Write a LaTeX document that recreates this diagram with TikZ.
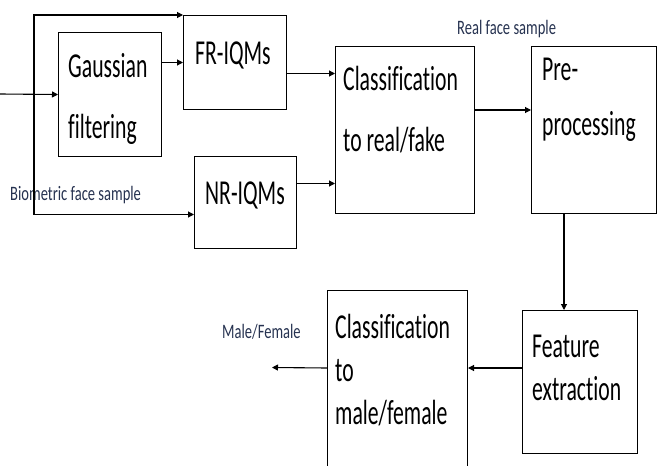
\documentclass[tikz,border=0pt]{standalone}
\usepackage{fontspec}
\setmainfont{Carlito}[FakeStretch=0.62, Ligatures=NoCommon]
\newfontfamily\notefont{Carlito}[FakeStretch=0.71, Ligatures=NoCommon]
\usepackage{tikz}
\usetikzlibrary{arrows.meta,positioning,calc}
\definecolor{labelblue}{RGB}{38,50,80}

\begin{document}
\begin{tikzpicture}[
  x=1pt, y=-1pt,
  box/.style={draw, line width=1pt, anchor=north west, inner sep=0pt},
  txt/.style={anchor=base west, align=left, inner sep=0pt, font=\fontsize{35}{61}\selectfont},
  note/.style={anchor=base west, inner sep=0pt, text=labelblue, font=\notefont\fontsize{20.5}{24}\selectfont},
  arr/.style={-{Triangle[length=6pt,width=6pt]}, line width=1.1pt}
]
\useasboundingbox (0,0) rectangle (657,466);

\node[box, minimum width=103pt, minimum height=124pt] (gauss) at (58,32) {};
\node[box, minimum width=103pt, minimum height=94pt] (fr) at (183,15) {};
\node[box, minimum width=102pt, minimum height=92pt] (nr) at (194,156) {};
\node[box, minimum width=139pt, minimum height=167pt] (cls) at (335,46) {};
\node[box, minimum width=125pt, minimum height=167pt] (pre) at (531,46) {};
\node[box, minimum width=115pt, minimum height=143pt] (feat) at (522,310) {};
\node[box, minimum width=140pt, minimum height=190pt] (gcls) at (327,290) {};

% text sits on the baseline of its last line
\node[txt] (gausst) at ([shift={(10,106)}]gauss.north west) {Gaussian\\filtering};
\node[txt] (frt) at ([shift={(12,49)}]fr.north west) {FR-IQMs};
\node[txt] (nrt) at ([shift={(11,48)}]nr.north west) {NR-IQMs};
\node[txt] (clst) at ([shift={(8,105)}]cls.north west) {Classification\\to real/fake};
\node[txt, font=\fontsize{35}{55}\selectfont] (pret) at ([shift={(11,89)}]pre.north west) {Pre-\\processing};
\node[txt, font=\fontsize{35}{43}\selectfont] (featt) at ([shift={(10,90)}]feat.north west) {Feature\\extraction};
\node[txt, font=\fontsize{35}{43}\selectfont] (gclst) at ([shift={(8,134)}]gcls.north west) {Classification\\to\\male/female};

\node[note] (real) at (457,34) {Real face sample};
\node[note] (bio) at (10,200) {Biometric face sample};
\node[note] (mf) at (222,338) {Male/Female};

\coordinate (src) at (0,94);
\coordinate (split) at (34,94);
\coordinate (nrin) at ([yshift=-12pt]nr.west);
\coordinate (frout) at ([yshift=-11pt]fr.east);
\coordinate (nrout) at ([yshift=19pt]nr.east);
\coordinate (clsout) at ([yshift=20pt]cls.east);
\coordinate (preout) at ([xshift=-30pt]pre.south);
\coordinate (featout) at ([yshift=14pt]feat.west);
\coordinate (sink) at (272,367.5);

\draw[arr] (src) -- (gauss.west);
\draw[arr] (split) |- (fr.north west);
\draw[arr] (split) |- (nrin);
\draw[arr] (gauss.east |- fr.west) -- (fr.west);
\draw[arr] (frout) -- (frout -| cls.west);
\draw[arr] (nrout) -- (nrout -| cls.west);
\draw[arr] (clsout) -- (pre.west |- clsout);
\draw[arr] (preout) -- (preout |- feat.north);
\draw[arr] (featout) -- (featout -| gcls.east);
\draw[arr] (featout -| gcls.west) -- (sink);
\end{tikzpicture}
\end{document}
